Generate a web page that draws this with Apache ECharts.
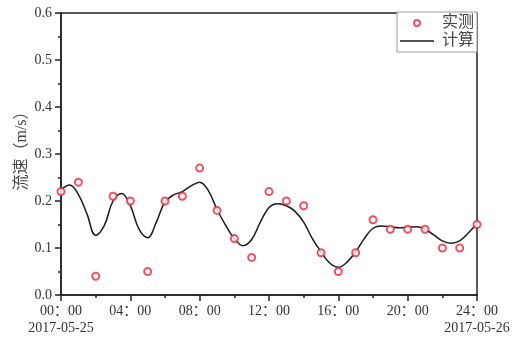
<!DOCTYPE html>
<html>
<head>
<meta charset="utf-8">
<script src="https://cdn.jsdelivr.net/npm/echarts@6/dist/echarts.min.js"></script>
<style>
html, body { margin: 0; padding: 0; background: #fff; }
#chart { width: 518px; height: 338px; }
</style>
</head>
<body>
<div id="chart"></div>
<script>
// 实测 hourly
var obsHours = [0, 1, 2, 3, 4, 5, 6, 7, 8, 9, 10, 11, 12, 13, 14, 15, 16, 17, 18, 19, 20, 21, 22, 23, 24];
var obsValues = [0.22, 0.24, 0.04, 0.21, 0.20, 0.05, 0.20, 0.21, 0.27, 0.18, 0.12, 0.08, 0.22, 0.20, 0.19, 0.09, 0.05, 0.09, 0.16, 0.14, 0.14, 0.14, 0.10, 0.10, 0.15];

// 计算 curve, read every half hour
var calcHours = [0, 0.5, 1, 1.5, 2, 2.5, 3, 3.5, 4, 4.5, 5, 5.5, 6, 6.5, 7, 7.5, 8, 8.5, 9, 9.5, 10, 10.5, 11, 11.5,
    12, 12.5, 13, 13.5, 14, 14.5, 15, 15.5, 16, 16.5, 17, 17.5, 18, 18.5, 19, 19.5, 20, 20.5, 21, 21.5, 22, 22.5, 23, 23.5, 24];
var calcValues = [0.224, 0.234, 0.214, 0.172, 0.127, 0.148, 0.200, 0.216, 0.190, 0.140, 0.122, 0.155, 0.198, 0.213, 0.220, 0.232,
    0.240, 0.222, 0.182, 0.148, 0.120, 0.105, 0.118, 0.155, 0.186, 0.194, 0.190, 0.178, 0.155, 0.120, 0.092, 0.068,
    0.059, 0.070, 0.092, 0.120, 0.142, 0.147, 0.145, 0.143, 0.144, 0.145, 0.140, 0.128, 0.115, 0.110, 0.115, 0.132, 0.152];

var startDate = '2017-05-25';
var endDate = '2017-05-26';

var font = "'Liberation Serif', 'Noto Sans CJK SC', serif";

function pairs(xs, ys) {
    var out = [];
    for (var i = 0; i < xs.length; i++) {
        out.push([xs[i], ys[i]]);
    }
    return out;
}

var myChart = echarts.init(document.getElementById('chart'));
var option = {
    animation: false,
    grid: {
        left: 61, right: 41, top: 13, bottom: 43,
        show: true,
        borderColor: '#222',
        borderWidth: 1.5
    },
    legend: {
        orient: 'vertical',
        right: 41,
        top: 12,
        itemWidth: 34,
        itemHeight: 6,
        itemGap: 2,
        padding: [3, 3, 3, 3],
        borderColor: '#999',
        borderWidth: 1,
        backgroundColor: '#fff',
        symbolKeepAspect: true,
        textStyle: { fontFamily: font, fontSize: 16, lineHeight: 16, color: '#444', padding: [0, 0, 0, 3] },
        data: [
            { name: '实测', icon: 'emptyCircle' },
            { name: '计算', icon: 'path://M0,0H68V3H0Z' }
        ]
    },
    xAxis: {
        type: 'value',
        min: 0,
        max: 24,
        interval: 4,
        axisLine: { lineStyle: { color: '#222', width: 1.5 } },
        axisTick: { length: 6, lineStyle: { color: '#222', width: 1.5 } },
        minorTick: { show: true, splitNumber: 2, length: 3, lineStyle: { color: '#222', width: 1.5 } },
        splitLine: { show: false },
        axisLabel: {
            color: '#333',
            fontFamily: font,
            fontSize: 14,
            lineHeight: 17,
            margin: 8,
            formatter: function (v) {
                var s = (v < 10 ? '0' : '') + v + '：00';
                if (v === 0) s += '\n' + startDate;
                if (v === 24) s += '\n' + endDate;
                return s;
            }
        }
    },
    yAxis: {
        type: 'value',
        min: 0,
        max: 0.6,
        interval: 0.1,
        name: '流速（m/s）',
        nameLocation: 'middle',
        nameGap: 31,
        nameMoveOverlap: false,
        nameTextStyle: { fontFamily: font, fontSize: 16, color: '#444', padding: [0, 0, 0, 14] },
        axisLine: { show: true, lineStyle: { color: '#222', width: 1.5 } },
        axisTick: { show: true, length: 6, lineStyle: { color: '#222', width: 1.5 } },
        minorTick: { show: true, splitNumber: 2, length: 3, lineStyle: { color: '#222', width: 1.5 } },
        splitLine: { show: false },
        axisLabel: {
            color: '#333',
            fontFamily: font,
            fontSize: 14,
            margin: 9,
            formatter: function (v) { return v.toFixed(1); }
        }
    },
    series: [
        {
            name: '实测',
            type: 'scatter',
            symbol: 'emptyCircle',
            symbolSize: 7,
            itemStyle: { color: '#e8283c', borderColor: '#e8283c', borderWidth: 1.1 },
            data: pairs(obsHours, obsValues),
            z: 3
        },
        {
            name: '计算',
            type: 'line',
            smooth: 0.4,
            showSymbol: false,
            symbol: 'none',
            lineStyle: { color: '#1a1a1a', width: 1.5 },
            itemStyle: { color: '#1a1a1a' },
            data: pairs(calcHours, calcValues),
            z: 2
        }
    ]
};
myChart.setOption(option);
</script>
</body>
</html>
